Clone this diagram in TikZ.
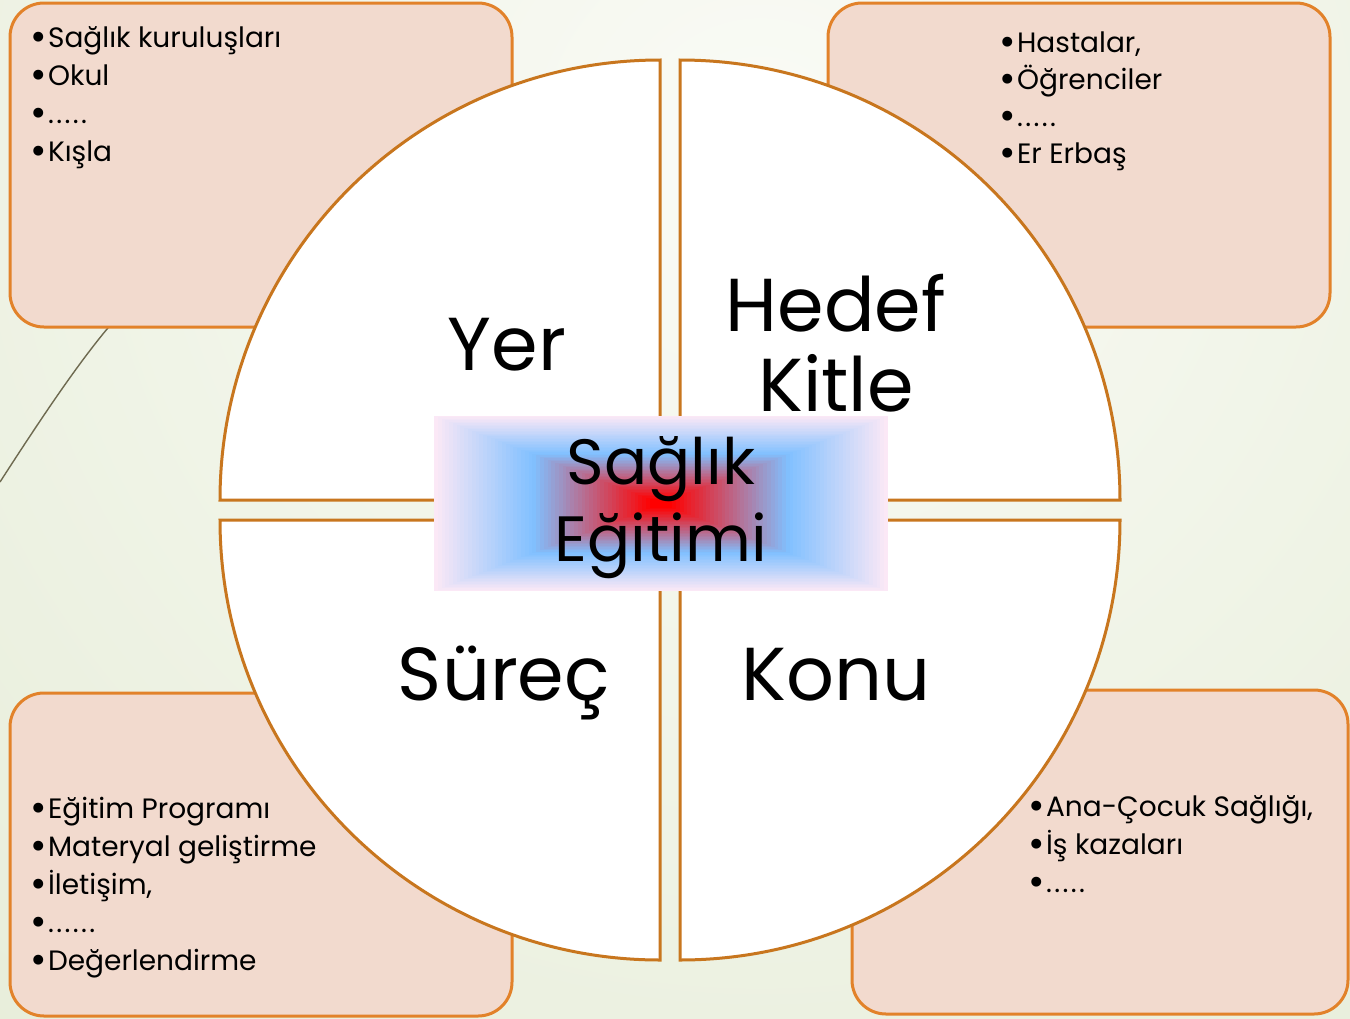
\documentclass[tikz,border=0pt]{standalone}
\usepackage{fontspec}
\setmainfont{Poppins}
\definecolor{boxfill}{HTML}{F2DACE}
\definecolor{boxline}{HTML}{E2822A}
\definecolor{sectorline}{HTML}{C8761E}
\definecolor{bginner}{HTML}{FAFBF6}
\definecolor{bgouter}{HTML}{E2EAD2}
\definecolor{glowedge}{HTML}{FBE8F6}
\definecolor{glowmid}{HTML}{80C0FF}
\definecolor{glowcore}{HTML}{FF0000}
\definecolor{stem}{HTML}{6E6A50}
\newcommand{\blt}{\smash{\raisebox{-1.5pt}{\fontsize{20}{18}\selectfont •}}\hspace{0.6pt}}
\newcommand{\fivedots}{.\hspace{1.2pt}.\hspace{1.2pt}.\hspace{1.2pt}.\hspace{1.2pt}.}
\newcommand{\sixdots}{.\hspace{1.2pt}.\hspace{1.2pt}.\hspace{1.2pt}.\hspace{1.2pt}.\hspace{1.2pt}.}

\begin{document}
\begin{tikzpicture}[x=0.5pt, y=-0.5pt,
  infobox/.style={draw=boxline, fill=boxfill, line width=1.5pt, rounded corners=17pt},
  sector/.style={draw=sectorline, fill=white, line width=1.5pt},
  item/.style={font=\fontsize{14}{18}\selectfont, anchor=base west, inner sep=0pt},
  big/.style={font=\fontsize{37.5}{40}\selectfont, align=center, inner sep=0pt},
  core/.style={font=\fontsize{32}{38.5}\selectfont, align=center, inner sep=0pt},
]
  % background
  \useasboundingbox (0,0) rectangle (1350,1018);
  \begin{scope}
    \clip (0,0) rectangle (1350,1018);
    \shade[inner color=bginner, outer color=bgouter] (760,150) circle (1500);
  \end{scope}
  \draw[stem, line width=0.7pt] (0,482) .. controls (40,420) and (80,360) .. (113,322);

  % corner boxes
  \draw[infobox] (10,3) rectangle (512,327);
  \draw[infobox] (828,3) rectangle (1330,327);
  \draw[infobox] (10,693) rectangle (512,1016);
  \draw[infobox] (852,690) rectangle (1348,1014);

  % four quarters
  \draw[sector] (660,500) -- (220,500) arc[start angle=180, end angle=270, radius=440] -- cycle;
  \draw[sector] (680,500) -- (680,60) arc[start angle=270, end angle=360, radius=440] -- cycle;
  \draw[sector] (660,520) -- (220,520) arc[start angle=180, end angle=90, radius=440] -- cycle;
  \draw[sector] (680,520) -- (1120,520) arc[start angle=0, end angle=90, radius=440] -- cycle;

  \node[big, anchor=base] (yer) at (507,370) {Yer};
  \node[big] (hedef) at (836,343) {Hedef\\Kitle};
  \node[big, anchor=base] (surec) at (504,700) {Süreç};
  \node[big, anchor=base] (konu) at (836,700) {Konu};

  % centre glow
  \foreach \k in {60,59,...,1}{
    \pgfmathsetmacro\t{\k/60}
    \pgfmathsetmacro\s{\t>0.57 ? (\t-0.57)/0.43*100 : max(\t-0.05,0)/0.52*100}
    \ifdim\t pt>0.57pt \colorlet{glowcol}{glowedge!\s!glowmid}\else \colorlet{glowcol}{glowmid!\s!glowcore}\fi
    \fill[glowcol] (661-227*\t,503.5-87.5*\t) rectangle (661+227*\t,503.5+87.5*\t);
  }
  \node[core] (egitim) at (661,508) {Sağlık\\Eğitimi};

  % bullet lists
  \foreach \txt [count=\i] in {Sağlık kuruluşları, Okul, \fivedots, Kışla}
    \node[item] (yer\i) at (30,9+38*\i) {\blt\txt};
  \foreach \txt [count=\i] in {{Hastalar,}, Öğrenciler, \fivedots, Er Erbaş}
    \node[item] (kitle\i) at (999,15+37*\i) {\blt\txt};
  \foreach \txt [count=\i] in {Eğitim Programı, Materyal geliştirme, {İletişim,}, \sixdots, Değerlendirme}
    \node[item] (surec\i) at (30,780+38*\i) {\blt\txt};
  \foreach \txt [count=\i] in {{Ana-Çocuk Sağlığı,}, İş kazaları, \fivedots}
    \node[item] (konu\i) at (1028,778+38*\i) {\blt\txt};
\end{tikzpicture}
\end{document}
